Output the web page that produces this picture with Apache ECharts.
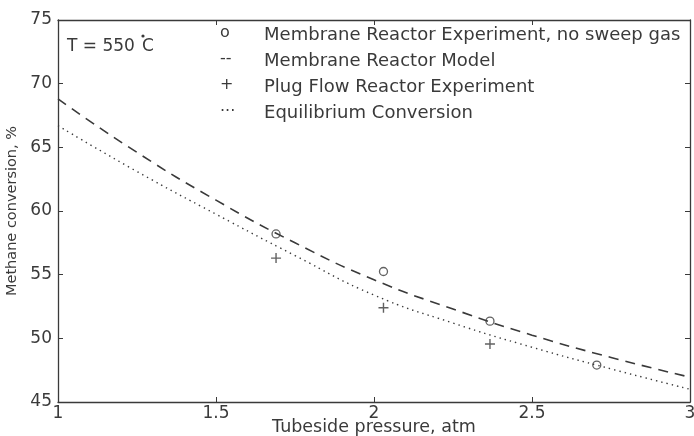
<!DOCTYPE html>
<html>
<head>
<meta charset="utf-8">
<script src="https://cdn.jsdelivr.net/npm/echarts@6/dist/echarts.min.js"></script>
<style>html,body{margin:0;padding:0;background:#fff}#c{width:694px;height:436px}</style>
</head>
<body>
<div id="c"></div>
<script>
// Curve sample pressures (atm)
const curvePressure = [1, 1.25, 1.5, 1.75, 2, 2.25, 2.5, 2.75, 3];
// Membrane Reactor Model (dashed)
const modelConversion = [68.8, 64.6, 60.85, 57.5, 54.6, 52.3, 50.25, 48.5, 46.95];
// Equilibrium Conversion (dotted)
const equilConversion = [66.7, 63.1, 59.75, 56.5, 53.4, 51.2, 49.3, 47.6, 46.0];
// Membrane Reactor Experiment, no sweep gas (circles)
const memExpPressure = [1.69, 2.03, 2.367, 2.705];
const memExpConversion = [58.2, 55.25, 51.35, 47.9];
// Plug Flow Reactor Experiment (plus)
const pfrPressure = [1.69, 2.03, 2.367];
const pfrConversion = [56.3, 52.4, 49.55];
// Ticks
const xTicks = [1, 1.5, 2, 2.5, 3];
const yTicks = [45, 50, 55, 60, 65, 70, 75];

const legendSymbols = ['o', '--', '+', '...'];
const legendNames = ['Membrane Reactor Experiment, no sweep gas', 'Membrane Reactor Model', 'Plug Flow Reactor Experiment', 'Equilibrium Conversion'];

const ink = '#3a3a3a';
const font = '"DejaVu Sans", Arial, sans-serif';
const zip = (a, b) => a.map((v, i) => [v, b[i]]);

const chart = echarts.init(document.getElementById('c'), null, {renderer: 'canvas'});
const axisCommon = {
  axisLine: {show: true, lineStyle: {color: ink, width: 1.3}},
  axisTick: {show: true, inside: true, length: 5, lineStyle: {color: ink, width: 1}},
  splitLine: {show: false}
};
const legendGraphics = [];
legendNames.forEach((n, i) => {
  legendGraphics.push({type: 'text', x: 220, y: 33 + i * 26 + (i === 3 ? -4 : 0),
    style: {text: legendSymbols[i], font: '16px ' + font, fill: ink, verticalAlign: 'middle'}});
  legendGraphics.push({type: 'text', x: 264, y: 36 + i * 25.8, scaleX: 1.06,
    style: {text: n, font: '17px ' + font, fill: ink, verticalAlign: 'middle'}});
});
legendGraphics.push({type: 'text', x: 67, y: 47,
  style: {text: 'T = 550', font: '17px ' + font, fill: ink, verticalAlign: 'middle'}});
legendGraphics.push({type: 'circle', shape: {cx: 143, cy: 36, r: 1.6},
  style: {fill: ink}});
legendGraphics.push({type: 'text', x: 142, y: 47,
  style: {text: 'C', font: '17px ' + font, fill: ink, verticalAlign: 'middle'}});

chart.setOption({
  animation: false,
  backgroundColor: '#fff',
  grid: {left: 58, right: 4, top: 20, bottom: 34, containLabel: false, outerBoundsMode: 'none'},
  xAxis: [
    Object.assign({type: 'value', min: xTicks[0], max: xTicks[xTicks.length - 1], interval: 0.5,
      name: 'Tubeside pressure, atm', nameLocation: 'middle', nameGap: 16, nameMoveOverlap: false,
      nameTextStyle: {color: ink, fontSize: 17.5, fontFamily: font},
      axisLabel: {color: ink, fontSize: 17, fontFamily: font, margin: 3,
        formatter: v => xTicks.includes(v) ? String(v) : ''}}, axisCommon),
    Object.assign({type: 'value', position: 'top', min: 1, max: 3, interval: 0.5,
      axisLabel: {show: false}}, axisCommon)
  ],
  yAxis: [
    Object.assign({type: 'value', min: yTicks[0], max: yTicks[yTicks.length - 1], interval: 5,
      name: 'Methane conversion, %', nameLocation: 'middle', nameGap: 36,
      nameTextStyle: {color: ink, fontSize: 14.5, fontFamily: font},
      axisLabel: {color: ink, fontSize: 17, fontFamily: font, margin: 6,
        formatter: v => yTicks.includes(v) ? String(v) : ''}}, axisCommon),
    Object.assign({type: 'value', position: 'right', min: 45, max: 75, interval: 5,
      axisLabel: {show: false}}, axisCommon)
  ],
  series: [
    {name: 'Membrane Reactor Model', type: 'line', smooth: true, symbol: 'none',
      data: zip(curvePressure, modelConversion),
      lineStyle: {color: ink, width: 1.6, type: [10, 7]}},
    {name: 'Equilibrium Conversion', type: 'line', smooth: true, symbol: 'none',
      data: zip(curvePressure, equilConversion),
      lineStyle: {color: ink, width: 1.4, type: [1.4, 4]}},
    {name: 'Membrane Reactor Experiment, no sweep gas', type: 'scatter', symbol: 'circle', symbolSize: 8,
      data: zip(memExpPressure, memExpConversion),
      itemStyle: {color: '#fff', borderColor: ink, borderWidth: 1.3}},
    {name: 'Plug Flow Reactor Experiment', type: 'scatter',
      symbol: 'path://M4.3,0h1.4v4.3h4.3v1.4h-4.3v4.3h-1.4v-4.3h-4.3v-1.4h4.3z', symbolSize: 10,
      data: zip(pfrPressure, pfrConversion),
      itemStyle: {color: ink}}
  ],
  graphic: legendGraphics
});
</script>
</body>
</html>
